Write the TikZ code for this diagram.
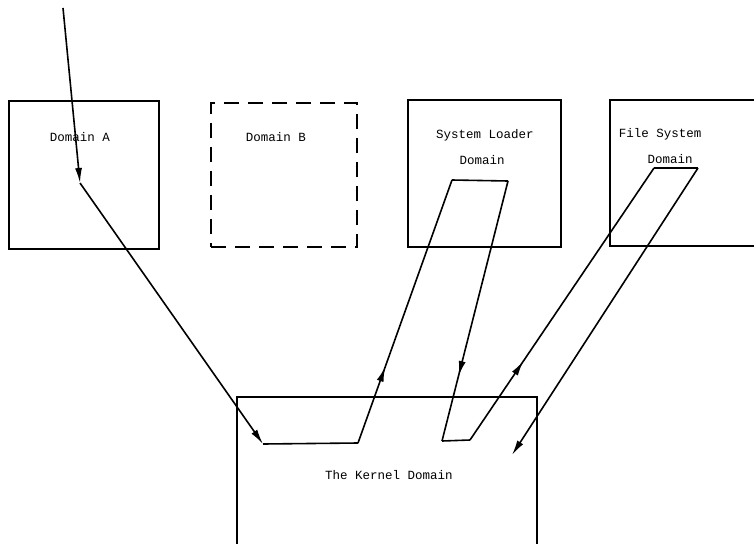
\documentclass[tikz,border=0pt]{standalone}
\usepackage{fontspec}
\setmonofont{Liberation Mono}
\usetikzlibrary{
  arrows.meta,
  decorations.markings
}
\tikzset{
  domain box/.style={
    draw, rectangle, line width=2.4pt, inner sep=0pt
  },
  dashed box/.style={
    domain box, dash pattern=on 15pt off 9pt
  },
  label text/.style={
    font=\fontsize{12.5}{14}\selectfont\ttfamily, inner sep=0pt
  },
  flow arrow/.style={
    line width=1.6pt, -{Latex[length=15pt,width=7pt]}
  },
  flow line/.style={
    line width=1.6pt
  },
  mid arrow/.style={
    flow line, postaction={decorate},
    decoration={markings,
      mark=at position #1 with {\arrow{Latex[length=15pt,width=7pt]}}}
  },
}
\begin{document}
\begin{tikzpicture}[x=1pt, y=-1pt]

  \useasboundingbox (0,0) rectangle (754,543);
  \clip (0,0) rectangle (754,543);

  % domains
  \node[domain box, minimum width=150pt, minimum height=148pt]
    (domA) at (84,175) {};
  \node[dashed box, minimum width=146pt, minimum height=144pt]
    (domB) at (284,175) {};
  \node[domain box, minimum width=153pt, minimum height=147pt]
    (loader) at (484.5,173.5) {};
  \node[domain box, minimum width=170pt, minimum height=146pt]
    (files) at (695,173) {};
  \node[domain box, minimum width=300pt, minimum height=183pt]
    (kernel) at (387,488.5) {};

  \node[label text] (labA)      at (80,137)  {Domain A};
  \node[label text] (labB)      at (276,137) {Domain B};
  \node[label text] (labL)      at (485,135) {System Loader};
  \node[label text] (labLd)     at (482,160) {Domain};
  \node[label text] (labF)      at (660,134) {File System};
  \node[label text] (labFd)     at (670,159) {Domain};
  \node[label text] (labK)      at (389,475) {The Kernel Domain};

  % path of control
  \coordinate (in)    at (63,8);
  \coordinate (a1)    at (80,183);
  \coordinate (k1)    at (263,444);
  \coordinate (k2)    at (358,443);
  \coordinate (l1)    at (452,180);
  \coordinate (l2)    at (508,181);
  \coordinate (k3)    at (442,441);
  \coordinate (k4)    at (470,440);
  \coordinate (f1)    at (654,168);
  \coordinate (f2)    at (698,168);
  \coordinate (k5)    at (512,455);

  \draw[flow arrow] (in) -- (a1);
  \draw[flow arrow] (a1) -- (k1);
  \draw[flow line]  (k1) -- (k2);
  \draw[mid arrow=0.29] (k2) -- (l1);
  \draw[flow line]  (l1) -- (l2);
  \draw[mid arrow=0.75] (l2) -- (k3);
  \draw[flow line]  (k3) -- (k4);
  \draw[mid arrow=0.29] (k4) -- (f1);
  \draw[flow line]  (f1) -- (f2);
  \draw[flow arrow] (f2) -- (k5);

\end{tikzpicture}
\end{document}
